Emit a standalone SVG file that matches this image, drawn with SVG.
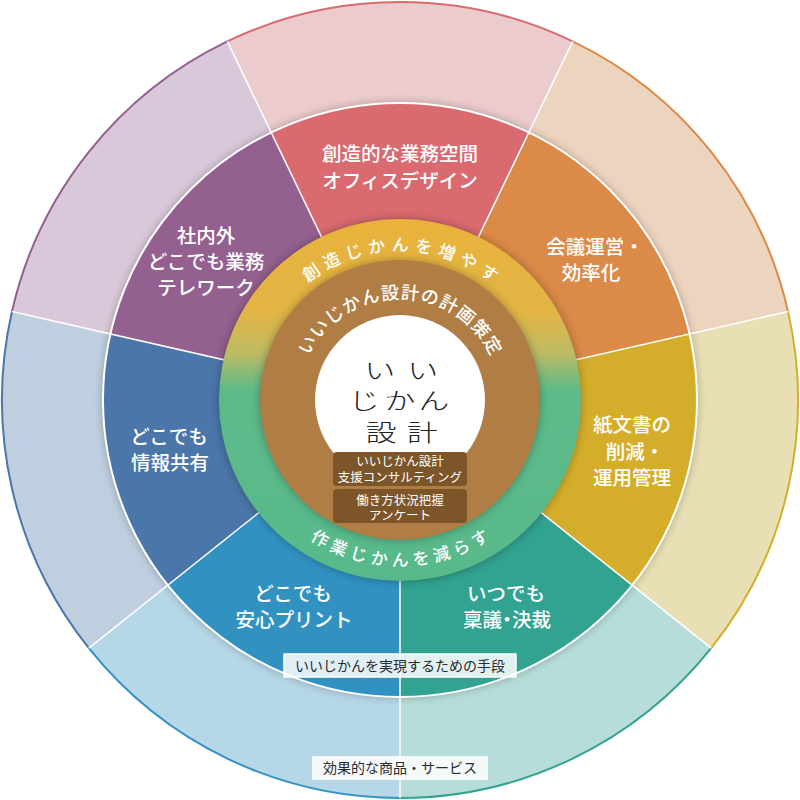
<svg xmlns="http://www.w3.org/2000/svg" width="800" height="800" viewBox="0 0 800 800">
<defs>
<style>
text{font-family:"Noto Sans CJK JP","Noto Sans",sans-serif}
.lbl{font-size:19.5px;fill:#fff;text-anchor:middle;font-weight:500}
.arc{font-size:17px;fill:#fff;text-anchor:middle;font-weight:500}
.arcb{font-size:18px;fill:#fff;text-anchor:middle;font-weight:500}
.box{font-size:12.5px;fill:#fff;text-anchor:middle}
.tag{font-size:14px;fill:#2b2b2b;text-anchor:middle}
.tagbox{fill:#fff;fill-opacity:0.85;stroke:#fff;stroke-width:1.5}
.edge{fill:none;stroke-width:2}
.div{stroke:#fff;stroke-width:1.5}
.logo{font-size:28px;fill:#222;font-weight:300;text-anchor:middle}
.ibox{fill:#7c5628}
</style>
<linearGradient id="ringGrad" gradientUnits="userSpaceOnUse" x1="0" y1="219" x2="0" y2="581">
<stop offset="0" stop-color="#e9b23b"/>
<stop offset="0.26" stop-color="#e2b546"/>
<stop offset="0.37" stop-color="#bdbb63"/>
<stop offset="0.47" stop-color="#5fba89"/>
<stop offset="1" stop-color="#57b98b"/>
</linearGradient>
<filter id="blur" x="-20%" y="-20%" width="140%" height="140%"><feGaussianBlur stdDeviation="5"/></filter>
<path id="arcTop" d="M270.96,325.5 A149,149 0 0 1 529.04,325.5"/>
<path id="arcBot" d="M256.24,483 A166,166 0 0 0 543.76,483"/>
<path id="arcIn" d="M300.53,382.46 A101,101 0 0 1 499.47,382.46"/>
</defs>

<g id="outer-ring">
<path d="M400,400 L227.32,41.41 A398,398 0 0 1 572.68,41.41 Z" fill="#ebcbcd"/>
<path d="M400,400 L572.68,41.41 A398,398 0 0 1 788.02,311.44 Z" fill="#edd4bf"/>
<path d="M400,400 L788.02,311.44 A398,398 0 0 1 711.17,648.15 Z" fill="#e8dfb4"/>
<path d="M400,400 L711.17,648.15 A398,398 0 0 1 400,798 Z" fill="#b6ddd9"/>
<path d="M400,400 L400,798 A398,398 0 0 1 88.83,648.15 Z" fill="#b6d7e8"/>
<path d="M400,400 L88.83,648.15 A398,398 0 0 1 11.98,311.44 Z" fill="#bfcfe0"/>
<path d="M400,400 L11.98,311.44 A398,398 0 0 1 227.32,41.41 Z" fill="#d9c8d9"/>
<path class="edge" d="M227.32,41.41 A398,398 0 0 1 572.68,41.41" stroke="#d96b70"/>
<path class="edge" d="M572.68,41.41 A398,398 0 0 1 788.02,311.44" stroke="#db8a48"/>
<path class="edge" d="M788.02,311.44 A398,398 0 0 1 711.17,648.15" stroke="#d4ae2b"/>
<path class="edge" d="M711.17,648.15 A398,398 0 0 1 400,798" stroke="#32a291"/>
<path class="edge" d="M400,798 A398,398 0 0 1 88.83,648.15" stroke="#3192c2"/>
<path class="edge" d="M88.83,648.15 A398,398 0 0 1 11.98,311.44" stroke="#4a76a9"/>
<path class="edge" d="M11.98,311.44 A398,398 0 0 1 227.32,41.41" stroke="#93608f"/>
</g>

<circle cx="400" cy="400" r="297" fill="#000" opacity="0.3" filter="url(#blur)"/>

<g id="seg-office">
<path d="M400,400 L271.14,132.41 A297,297 0 0 1 528.86,132.41 Z" fill="#d96b70"/>
<text class="lbl" x="400" y="161">創造的な業務空間</text>
<text class="lbl" x="400" y="188">オフィスデザイン</text>
</g>
<g id="seg-meeting">
<path d="M400,400 L528.86,132.41 A297,297 0 0 1 689.55,333.91 Z" fill="#db8a48"/>
<text class="lbl" x="595" y="254">会議運営・</text>
<text class="lbl" x="591" y="280">効率化</text>
</g>
<g id="seg-paper">
<path d="M400,400 L689.55,333.91 A297,297 0 0 1 632.20,585.18 Z" fill="#d4ae2b"/>
<text class="lbl" x="632" y="432">紙文書の</text>
<text class="lbl" x="635" y="459">削減・</text>
<text class="lbl" x="632" y="485">運用管理</text>
</g>
<g id="seg-approval">
<path d="M400,400 L632.20,585.18 A297,297 0 0 1 400,697 Z" fill="#32a291"/>
<text class="lbl" x="506" y="601">いつでも</text>
<text class="lbl" x="507" y="627">稟議<tspan style="font-feature-settings:'palt'">・</tspan>決裁</text>
</g>
<g id="seg-print">
<path d="M400,400 L400,697 A297,297 0 0 1 167.80,585.18 Z" fill="#3192c2"/>
<text class="lbl" x="293" y="601">どこでも</text>
<text class="lbl" x="294" y="627">安心プリント</text>
</g>
<g id="seg-share">
<path d="M400,400 L167.80,585.18 A297,297 0 0 1 110.45,333.91 Z" fill="#4a76a9"/>
<text class="lbl" x="169" y="444">どこでも</text>
<text class="lbl" x="170" y="470">情報共有</text>
</g>
<g id="seg-telework">
<path d="M400,400 L110.45,333.91 A297,297 0 0 1 271.14,132.41 Z" fill="#93608f"/>
<text class="lbl" x="206" y="243">社内外</text>
<text class="lbl" x="206" y="269">どこでも業務</text>
<text class="lbl" x="206" y="295">テレワーク</text>
</g>

<g id="connectors">
<line class="div" x1="400" y1="400" x2="227.32" y2="41.41"/>
<line class="div" x1="400" y1="400" x2="572.68" y2="41.41"/>
<line class="div" x1="400" y1="400" x2="788.02" y2="311.44"/>
<line class="div" x1="400" y1="400" x2="711.17" y2="648.15"/>
<line class="div" x1="400" y1="400" x2="400" y2="798"/>
<line class="div" x1="400" y1="400" x2="88.83" y2="648.15"/>
<line class="div" x1="400" y1="400" x2="11.98" y2="311.44"/>
<circle cx="400" cy="400" r="297" fill="none" stroke="#fff" stroke-width="2"/>
</g>

<circle cx="400" cy="400" r="181" fill="#000" opacity="0.3" filter="url(#blur)"/>
<g id="time-ring">
<circle cx="400" cy="400" r="181" fill="url(#ringGrad)"/>
<text class="arc" letter-spacing="5.75"><textPath href="#arcTop" startOffset="159">創造じかんを増やす</textPath></text>
<text class="arc" letter-spacing="4.7"><textPath href="#arcBot" startOffset="176.2">作業じかんを減らす</textPath></text>
</g>

<circle cx="400" cy="400" r="140" fill="#000" opacity="0.3" filter="url(#blur)"/>
<g id="plan">
<circle cx="400" cy="400" r="140" fill="#b07e45"/>
<text class="arcb" letter-spacing="1"><textPath href="#arcIn" startOffset="141.5">いいじかん設計の計画策定</textPath></text>
</g>

<g id="logo">
<circle cx="400" cy="400" r="85" fill="#fff"/>
<text class="logo" transform="translate(402,379) scale(1.1,0.8)" x="-20 19">いい</text>
<text class="logo" transform="translate(400,409) scale(1.1,0.8)" x="-32.7 0 30.9">じかん</text>
<text class="logo" transform="translate(402,441) scale(1.1,0.8)" x="-19 18.6">設計</text>
</g>

<g id="box-consult">
<rect class="ibox" x="333" y="452" width="134" height="34" rx="4"/>
<text class="box" x="400" y="466">いいじかん設計</text>
<text class="box" x="400" y="482">支援コンサルティング</text>
</g>
<g id="box-survey">
<rect class="ibox" x="333" y="489" width="134" height="34" rx="4"/>
<text class="box" x="400" y="505">働き方状況把握</text>
<text class="box" x="400" y="520">アンケート</text>
</g>

<g id="tag-means">
<rect class="tagbox" x="284" y="654" width="232" height="23"/>
<text class="tag" x="400" y="671">いいじかんを実現するための手段</text>
</g>
<g id="tag-products">
<rect class="tagbox" x="313" y="757" width="174" height="22"/>
<text class="tag" x="400" y="773">効果的な商品・サービス</text>
</g>
</svg>
